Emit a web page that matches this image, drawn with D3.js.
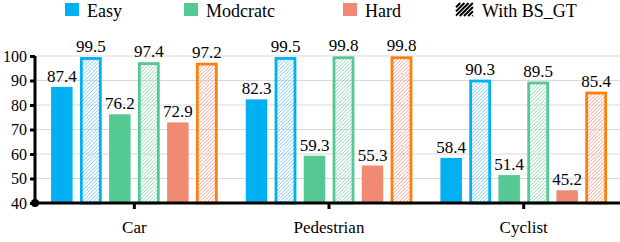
<!DOCTYPE html>
<html><head><meta charset="utf-8"><script src="https://cdn.jsdelivr.net/npm/d3@7"></script></head>
<body style="margin:0">
<script>
// data
var categories = ["Car", "Pedestrian", "Cyclist"];
var levels = ["Easy", "Moderate", "Hard"];
var baseVals = [[87.4, 76.2, 72.9], [82.3, 59.3, 55.3], [58.4, 51.4, 45.2]];
var gtVals = [[99.5, 97.4, 97.2], [99.5, 99.8, 99.8], [90.3, 89.5, 85.4]];
var legendLabels = ["Easy", "Modcratc", "Hard", "With BS_GT"];
var yTicks = [40, 50, 60, 70, 80, 90, 100];

var fills = ["#00b0f0", "#55c994", "#f08a74"];
var outlines = ["#00b0f0", "#55c994", "#ff7f0e"];
var hatchCols = ["#7fcff2", "#8fdcb5", "#f6a691"];

var w = 620, h = 242;
var svg = d3.select("body").append("svg").attr("width", w).attr("height", h);

// hatch lines "/" inside a rectangle
function hatch(g, x, y, wd, ht, gap, col, sw) {
  for (var k = gap; k < wd + ht; k += gap) {
    var x1 = x + k, y1 = y, x2 = x + k - ht, y2 = y + ht;
    if (x1 > x + wd) { y1 = y + (x1 - (x + wd)); x1 = x + wd; }
    if (x2 < x) { y2 = y2 - (x - x2); x2 = x; }
    g.append("line").attr("x1", x1).attr("y1", y1).attr("x2", x2).attr("y2", y2)
      .attr("stroke", col).attr("stroke-width", sw);
  }
}

// all texts go straight on the svg
function label(x, y, size, anchor, t) {
  svg.append("text").attr("x", x).attr("y", y).attr("font-size", size)
    .attr("font-family", "Liberation Serif").attr("text-anchor", anchor).text(t);
}

// scales
var x0 = d3.scaleBand().domain(categories).range([37, 621]).padding(0);
var yScale = d3.scaleLinear().domain([40, 100]).range([203, 56]);
var step = 29, bw = 21.5;

// grid
svg.append("g").selectAll("line").data(yTicks.slice(1)).enter().append("line")
  .attr("x1", 37).attr("x2", w)
  .attr("y1", function(d) { return yScale(d); })
  .attr("y2", function(d) { return yScale(d); })
  .attr("stroke", "#d9d9d9").attr("stroke-width", 1);

// bars
var labels = [];
categories.forEach(function(cat, ci) {
  var cx = x0(cat) + x0.bandwidth() / 2;
  var g = svg.append("g");
  levels.forEach(function(lv, li) {
    var xb = cx - 2.5 * step + (2 * li) * step - bw / 2;
    var xg = xb + step;
    var v = baseVals[ci][li], vg = gtVals[ci][li];
    g.append("rect").attr("x", xb).attr("y", yScale(v)).attr("width", bw)
      .attr("height", yScale(40) - yScale(v)).attr("fill", fills[li]);
    var top = yScale(vg) + 1.25;
    hatch(g, xg + 1.25, top, bw - 2.5, yScale(40) - top, 3.6, hatchCols[li], 1);
    g.append("rect").attr("x", xg + 1.25).attr("y", top).attr("width", bw - 2.5)
      .attr("height", yScale(40) - top).attr("fill", "none")
      .attr("stroke", outlines[li]).attr("stroke-width", 2.8);
    labels.push([xb + bw / 2, yScale(v) - 5, v.toFixed(1)]);
    labels.push([xg + bw / 2, yScale(vg) - 5, vg.toFixed(1)]);
  });
});

// axes (lines only, labels drawn below)
var yAxis = svg.append("g").attr("transform", "translate(35,0)")
  .call(d3.axisLeft(yScale).tickValues(yTicks).tickSize(5).tickFormat(""));
yAxis.select(".domain").attr("stroke-width", 3).attr("d", "M0," + yScale(40) + "V" + yScale(100));
yAxis.selectAll(".tick line").attr("stroke-width", 3);
yAxis.selectAll("text").remove();

var xAxis = svg.append("g").attr("transform", "translate(0," + yScale(40) + ")")
  .call(d3.axisBottom(x0).tickSize(6).tickFormat(""));
xAxis.select(".domain").attr("stroke-width", 3).attr("d", "M35,0H" + w);
xAxis.selectAll(".tick line").attr("stroke-width", 3);
xAxis.selectAll("text").remove();

svg.append("circle").attr("cx", 35).attr("cy", yScale(40)).attr("r", 4).attr("fill", "#000");

// legend swatches
var legX = [65, 184, 343, 456];
legendLabels.forEach(function(t, i) {
  if (i < 3) {
    svg.append("rect").attr("x", legX[i]).attr("y", 3).attr("width", 14).attr("height", 13).attr("fill", fills[i]);
  } else {
    hatch(svg.append("g"), legX[i], 3, 17, 13, 4.2, "#000", 2);
  }
});

// texts
labels.forEach(function(d) { label(d[0], d[1], 17, "middle", d[2]); });
yTicks.forEach(function(d) { label(27, yScale(d) + 5.5, 16, "end", d); });
categories.forEach(function(c) { label(x0(c) + x0.bandwidth() / 2, 233, 17, "middle", c); });
legendLabels.forEach(function(t, i) { label(legX[i] + (i < 3 ? 22 : 26), 17, 18, "start", t); });
</script>
</body>
</html>
